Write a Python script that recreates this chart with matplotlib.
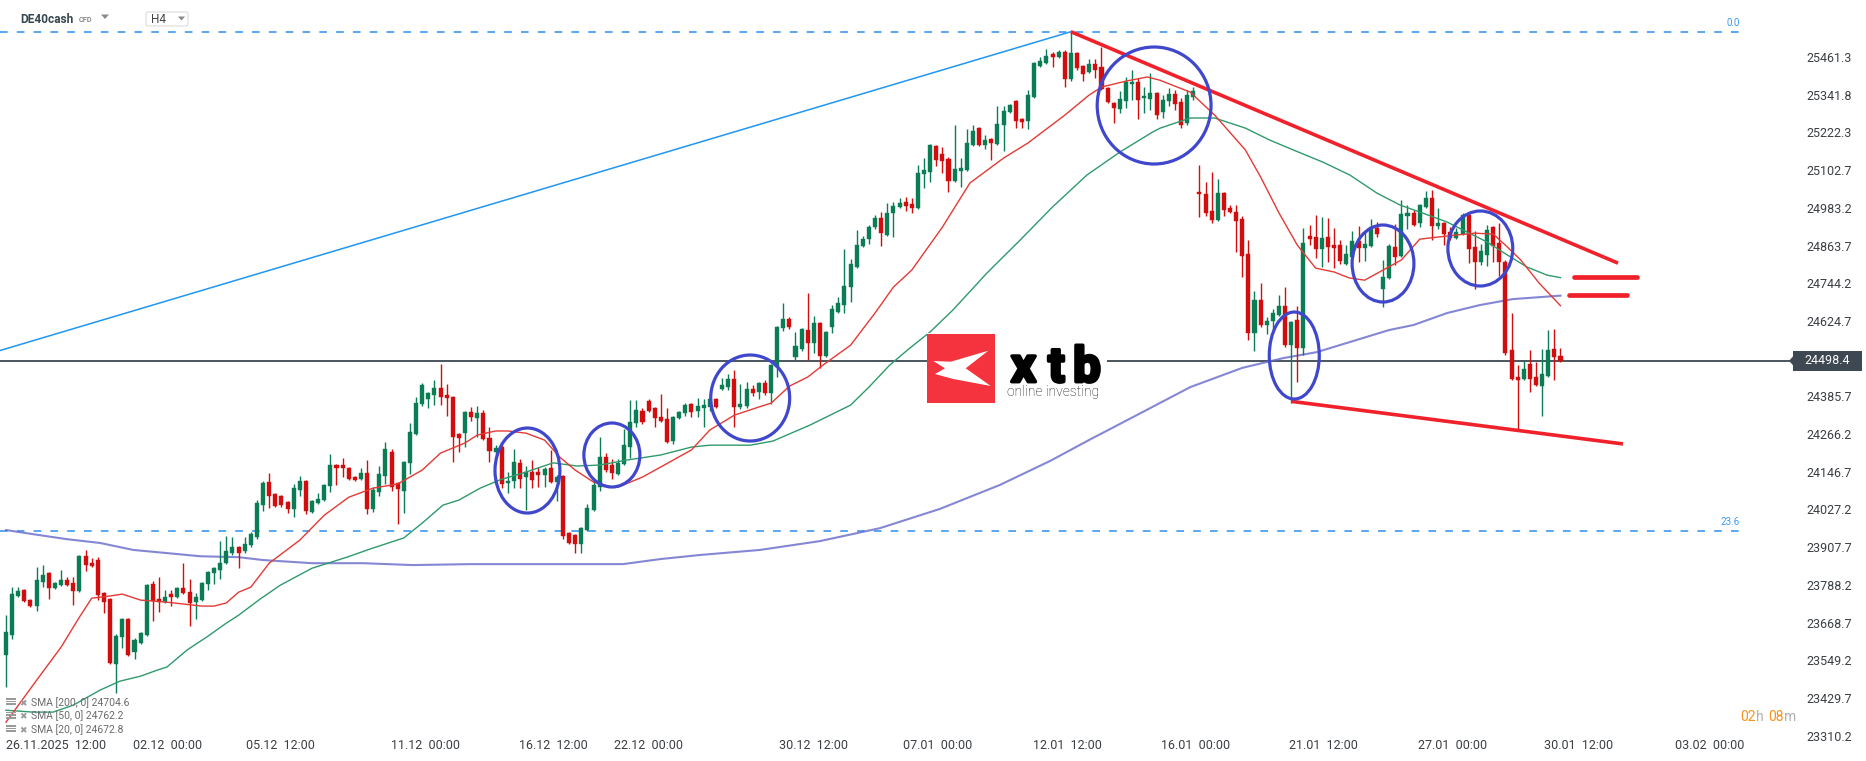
import matplotlib
matplotlib.use("Agg")
import matplotlib.pyplot as plt
import matplotlib.patheffects as pe
import numpy as np
from matplotlib.patches import Rectangle, Ellipse, Polygon, FancyBboxPatch
from matplotlib.transforms import blended_transform_factory

plt.rcParams["font.family"] = ["Roboto", "DejaVu Sans"]

# DE40cash H4 candles, 26.11.2025 -> 30.01.2026
opens = [
    23566, 23629, 23753, 23772, 23740, 23721, 23797, 23826, 23778, 23787, 23803, 23794, 23769, 23879, 23857,
    23867, 23762, 23743, 23537, 23623, 23680, 23575, 23604, 23629, 23791, 23743, 23734, 23759, 23750, 23778,
    23765, 23734, 23740, 23791, 23826, 23835, 23857, 23889, 23908, 23895, 23914, 23940, 24041, 24114, 24076,
    24070, 24051, 24029, 24089, 24117, 24019, 24047, 24057, 24101, 24168, 24168, 24159, 24130, 24124, 24143,
    24029, 24082, 24133, 24209, 24111, 24086, 24174, 24266, 24361, 24377, 24390, 24412, 24390, 24384, 24266,
    24269, 24336, 24317, 24333, 24254, 24209, 24225, 24111, 24117, 24174, 24130, 24146, 24146, 24136, 24159,
    24114, 24133, 23952, 23946, 23917, 23962, 24025, 24098, 24193, 24168, 24139, 24171, 24225, 24301, 24339,
    24371, 24349, 24320, 24314, 24244, 24317, 24333, 24361, 24339, 24349, 24352, 24377, 24409, 24415, 24441,
    24352, 24355, 24409, 24399, 24428, 24396, 24479, 24602, 24631, 24510, 24536, 24596, 24555, 24618, 24513,
    24605, 24653, 24675, 24732, 24796, 24862, 24884, 24922, 24951, 24897, 24967, 24986, 25002, 24995, 24983,
    25090, 25097, 25179, 25154, 25138, 25068, 25100, 25103, 25182, 25236, 25182, 25201, 25186, 25246, 25287,
    25322, 25265, 25258, 25335, 25433, 25442, 25471, 25461, 25477, 25392, 25474, 25433, 25414, 25439, 25430,
    25363, 25315, 25297, 25322, 25376, 25382, 25331, 25328, 25347, 25287, 25322, 25344, 25319, 25252, 25335,
    25033, 25027, 24973, 24945, 25030, 24983, 24970, 24948, 24837, 24586, 24691, 24612, 24624, 24643, 24672,
    24548, 24628, 24539, 24894, 24891, 24853, 24891, 24865, 24865, 24805, 24827, 24878, 24856, 24862, 24919,
    24726, 24761, 24859, 24830, 24957, 24967, 24935, 24986, 25014, 24926, 24935, 24907, 24888, 24900, 24960,
    24859, 24811, 24834, 24922, 24872, 24811, 24533, 24447, 24441, 24488, 24447, 24418, 24450, 24536, 24514,
]
highs = [
    23692, 23781, 23781, 23775, 23743, 23845, 23851, 23828, 23797, 23835, 23813, 23813, 23882, 23898, 23873,
    23876, 23765, 23746, 23632, 23683, 23683, 23620, 23639, 23790, 23800, 23813, 23772, 23772, 23781, 23857,
    23807, 23762, 23797, 23832, 23845, 23927, 23943, 23940, 23911, 23940, 23956, 24057, 24117, 24143, 24079,
    24073, 24054, 24108, 24133, 24121, 24057, 24079, 24108, 24203, 24171, 24190, 24162, 24133, 24159, 24184,
    24098, 24165, 24241, 24219, 24114, 24181, 24301, 24384, 24428, 24400, 24437, 24488, 24425, 24387, 24269,
    24339, 24352, 24355, 24342, 24288, 24231, 24231, 24146, 24219, 24187, 24165, 24184, 24162, 24162, 24216,
    24136, 24136, 23955, 23949, 23971, 24044, 24121, 24257, 24206, 24187, 24187, 24282, 24374, 24374, 24349,
    24377, 24352, 24393, 24349, 24323, 24339, 24365, 24365, 24380, 24377, 24380, 24380, 24444, 24456, 24469,
    24425, 24431, 24422, 24431, 24437, 24488, 24608, 24681, 24637, 24590, 24602, 24713, 24640, 24621, 24593,
    24675, 24701, 24853, 24821, 24913, 24894, 24929, 24960, 24970, 24998, 25002, 25014, 25018, 25014, 25119,
    25141, 25185, 25182, 25176, 25144, 25246, 25141, 25233, 25246, 25239, 25214, 25204, 25306, 25306, 25312,
    25325, 25268, 25357, 25446, 25461, 25487, 25477, 25483, 25483, 25541, 25477, 25436, 25455, 25455, 25493,
    25366, 25318, 25354, 25398, 25420, 25395, 25366, 25411, 25350, 25341, 25363, 25357, 25331, 25357, 25366,
    25119, 25065, 25097, 25075, 25033, 24992, 24992, 24957, 24881, 24720, 24745, 24637, 24662, 24707, 24732,
    24624, 24672, 24919, 24929, 24960, 24954, 24951, 24919, 24881, 24865, 24910, 24926, 24913, 24948, 24938,
    24818, 24869, 24932, 25008, 24992, 24976, 24995, 25037, 25040, 24983, 24938, 24922, 24919, 24967, 24964,
    24910, 24869, 24929, 24926, 24935, 24818, 24650, 24485, 24498, 24533, 24494, 24536, 24596, 24599, 24539,
]
lows = [
    23464, 23616, 23750, 23734, 23718, 23705, 23781, 23743, 23775, 23784, 23784, 23724, 23765, 23832, 23845,
    23740, 23699, 23537, 23445, 23588, 23563, 23553, 23601, 23626, 23673, 23702, 23731, 23721, 23747, 23759,
    23658, 23680, 23737, 23772, 23791, 23807, 23854, 23883, 23841, 23889, 23908, 23933, 24022, 24032, 24035,
    24035, 24016, 24003, 24070, 24013, 24016, 24044, 24054, 24082, 24105, 24130, 24121, 24117, 24121, 24013,
    24019, 24070, 24108, 24086, 23981, 24016, 24139, 24263, 24355, 24349, 24358, 24358, 24323, 24177, 24209,
    24225, 24307, 24257, 24247, 24177, 24193, 24095, 24079, 24095, 24095, 24025, 24095, 24098, 24098, 24111,
    24054, 23933, 23917, 23889, 23889, 23958, 24022, 24086, 24146, 24124, 24136, 24168, 24190, 24288, 24298,
    24336, 24288, 24304, 24238, 24235, 24314, 24323, 24320, 24320, 24288, 24339, 24349, 24406, 24406, 24288,
    24345, 24349, 24387, 24377, 24390, 24361, 24447, 24593, 24599, 24501, 24529, 24501, 24523, 24476, 24510,
    24586, 24650, 24650, 24685, 24792, 24859, 24869, 24916, 24862, 24894, 24891, 24983, 24973, 24967, 24980,
    25046, 25065, 25116, 25094, 25033, 25065, 25049, 25100, 25179, 25179, 25170, 25135, 25183, 25163, 25284,
    25236, 25236, 25233, 25331, 25430, 25439, 25430, 25458, 25366, 25385, 25420, 25385, 25411, 25395, 25357,
    25315, 25252, 25284, 25300, 25325, 25265, 25284, 25293, 25265, 25268, 25306, 25293, 25236, 25246, 25325,
    24954, 24957, 24935, 24942, 24957, 24967, 24843, 24764, 24564, 24529, 24605, 24583, 24590, 24640, 24542,
    24365, 24431, 24517, 24865, 24824, 24796, 24811, 24792, 24805, 24802, 24824, 24811, 24815, 24859, 24891,
    24669, 24758, 24802, 24827, 24916, 24926, 24922, 24983, 24881, 24916, 24865, 24881, 24884, 24897, 24808,
    24726, 24802, 24799, 24811, 24767, 24517, 24437, 24279, 24437, 24399, 24418, 24323, 24447, 24437, 24494,
]
closes = [
    23639, 23759, 23769, 23737, 23721, 23803, 23819, 23778, 23794, 23803, 23787, 23769, 23879, 23851, 23848,
    23756, 23734, 23540, 23626, 23680, 23566, 23613, 23636, 23787, 23737, 23734, 23750, 23750, 23778, 23762,
    23731, 23750, 23794, 23829, 23841, 23857, 23895, 23908, 23889, 23917, 23949, 24047, 24111, 24070, 24038,
    24041, 24029, 24095, 24117, 24022, 24054, 24060, 24105, 24168, 24159, 24159, 24124, 24121, 24143, 24029,
    24089, 24139, 24219, 24098, 24092, 24177, 24273, 24365, 24422, 24396, 24412, 24384, 24380, 24257, 24254,
    24336, 24320, 24333, 24250, 24212, 24222, 24108, 24117, 24177, 24124, 24146, 24121, 24136, 24155, 24114,
    24130, 23943, 23921, 23917, 23968, 24032, 24105, 24193, 24152, 24143, 24174, 24231, 24304, 24342, 24304,
    24339, 24317, 24307, 24241, 24320, 24336, 24358, 24336, 24355, 24358, 24377, 24352, 24422, 24441, 24352,
    24361, 24409, 24396, 24428, 24396, 24485, 24605, 24631, 24605, 24545, 24599, 24555, 24618, 24513, 24590,
    24662, 24681, 24735, 24805, 24865, 24884, 24922, 24951, 24903, 24967, 24989, 24998, 24989, 24983, 25094,
    25103, 25182, 25135, 25132, 25068, 25106, 25109, 25189, 25227, 25182, 25198, 25189, 25249, 25290, 25309,
    25258, 25255, 25341, 25442, 25449, 25464, 25461, 25477, 25392, 25474, 25426, 25407, 25439, 25420, 25360,
    25319, 25300, 25328, 25382, 25382, 25325, 25338, 25347, 25277, 25325, 25344, 25312, 25246, 25341, 25354,
    25027, 24967, 24945, 25030, 24976, 24970, 24941, 24830, 24586, 24691, 24612, 24624, 24650, 24672, 24548,
    24621, 24539, 24872, 24884, 24853, 24888, 24859, 24856, 24815, 24837, 24878, 24856, 24869, 24922, 24900,
    24764, 24862, 24827, 24964, 24967, 24929, 24992, 25014, 24926, 24935, 24900, 24888, 24907, 24960, 24853,
    24811, 24846, 24913, 24862, 24811, 24523, 24441, 24437, 24472, 24441, 24422, 24456, 24533, 24510, 24498.4,
]

# moving averages (candle index, level)
sma20_idx = [0, 5, 9, 12, 14, 17, 19, 22, 26, 32, 34, 36, 38, 40, 43, 48, 52, 56, 60, 64, 68, 71, 75, 77, 80,
             82, 85, 88, 90.5, 93, 96, 99, 100, 104, 107, 112, 115, 119, 123, 125, 128, 131, 133.5, 138, 142,
             145, 148, 153, 157.5, 163, 167, 173, 177, 179, 183, 186.5, 188.5, 193.5, 197.5, 202.5, 205, 208,
             211, 214, 217, 219.5, 222, 225, 228, 231, 235.5, 240, 243, 245, 247.5, 250.5, 254]
sma20_val = [23353, 23486, 23591, 23686, 23746, 23753, 23759, 23740, 23734, 23721, 23721, 23731, 23765, 23781,
             23857, 23930, 24009, 24066, 24095, 24108, 24152, 24206, 24238, 24263, 24276, 24276, 24269, 24247,
             24193, 24152, 24114, 24098, 24098, 24130, 24162, 24216, 24279, 24326, 24352, 24364, 24418, 24447,
             24485, 24548, 24650, 24732, 24786, 24922, 25062, 25141, 25189, 25277, 25341, 25366, 25385, 25398,
             25388, 25350, 25277, 25167, 25081, 24967, 24865, 24792, 24780, 24761, 24754, 24786, 24818, 24884,
             24894, 24903, 24900, 24865, 24818, 24745, 24673]
sma50_idx = [0, 4.4, 7.7, 11, 13, 15.4, 18.6, 22, 24.7, 26.3, 29.6, 32.8, 36, 38, 41.5, 44.8, 50, 55.7, 59.5,
             65, 68, 71.4, 74, 77.5, 80.7, 85, 89.4, 93.3, 97, 101.5, 107, 112, 115, 121.6, 125.3, 131.4, 138,
             141, 144.4, 147.7, 151, 154.7, 160.3, 165.7, 171, 176.6, 182, 187.4, 188.6, 193.5, 197.5, 202.5,
             206.5, 210.3, 215.2, 219.6, 224, 227.8, 231, 235.5, 238.7, 242, 245.3, 248.5, 251.8, 254]
sma50_val = [23391, 23385, 23385, 23407, 23429, 23455, 23483, 23499, 23518, 23528, 23582, 23623, 23667, 23692,
             23743, 23787, 23841, 23876, 23902, 23937, 23984, 24041, 24057, 24095, 24121, 24146, 24175, 24165,
             24168, 24184, 24200, 24225, 24231, 24231, 24244, 24295, 24358, 24415, 24485, 24539, 24590, 24659,
             24777, 24881, 24986, 25087, 25160, 25224, 25236, 25268, 25268, 25236, 25198, 25167, 25128, 25087,
             25030, 24992, 24970, 24938, 24907, 24875, 24834, 24796, 24770, 24762]
sma200_idx = [0, 4.4, 10, 15.4, 20.8, 26.3, 31.7, 38, 42, 50, 58.3, 66.5, 75.8, 100.8, 106.9, 113.4, 123.2,
              133, 142.8, 152.6, 162.4, 170.6, 177.6, 180.4, 187, 193.5, 202, 208.7, 214.2, 219.6, 226, 230,
              235.5, 240.8, 246.2, 254]
sma200_val = [23962, 23949, 23933, 23921, 23899, 23889, 23879, 23876, 23867, 23857, 23857, 23851, 23854, 23854,
              23870, 23883, 23899, 23927, 23968, 24029, 24105, 24181, 24254, 24282, 24349, 24415, 24476, 24507,
              24526, 24558, 24596, 24612, 24650, 24675, 24694, 24705]

last_price = 24498.4
fib_levels = [25541.5, 23959.0]
fib_names = ["0.0", "23.6"]
y_ticks = [23310.2, 23429.7, 23549.2, 23668.7, 23788.2, 23907.7, 24027.2, 24146.7, 24266.2, 24385.7,
           24624.7, 24744.2, 24863.7, 24983.2, 25102.7, 25222.3, 25341.8, 25461.3]
x_tick_pos = [0, 26.4, 44.8, 68.5, 89.4, 105, 131.9, 152.3, 173.4, 194.4, 215.2, 236.3, 256.9, 278.3]
x_tick_labels = ["26.11.2025  12:00", "02.12  00:00", "05.12  12:00", "11.12  00:00", "16.12  12:00",
                 "22.12  00:00", "30.12  12:00", "07.01  00:00", "12.01  12:00", "16.01  00:00",
                 "21.01  12:00", "27.01  00:00", "30.01  12:00", "03.02  00:00"]

# drawn annotations: (candle index, price)
fib_trend = ([-0.98, 174], [24531, 25541.5])
upper_trend = ([174, 263.4], [25541.5, 24808])
lower_trend = ([210, 264.2], [24370, 24235])
marks = [([256.2, 266.5], 24764), ([255.4, 264.9], 24707)]
circles = [(85.2, 24150.7, 10.6, 269.4), (99.0, 24199.9, 9.15, 202.8), (121.6, 24380.5, 12.9, 272.6),
           (187.6, 25307.6, 18.6, 370.8), (210.5, 24515.2, 8.17, 275.7), (225.0, 24806.8, 10.1, 244.0),
           (240.9, 24854.4, 10.6, 237.7)]

GREEN = "#0a7d55"
RED = "#d30d0d"
W, H = 1866, 761

fig = plt.figure(figsize=(W / 100, H / 100), dpi=100)
fig.patch.set_facecolor("white")
ax = fig.add_axes([0, 24 / H, 1790 / W, 737 / H])
ax.set_xlim(-0.98, 291.5)
ax.set_ylim(23306.1, 25642)
for s in ax.spines.values():
    s.set_visible(False)

o = np.array(opens, float)
c = np.array(closes, float)
hi = np.array(highs, float)
lo = np.array(lows, float)
xs = np.arange(len(o))
cols = np.where(c >= o, GREEN, RED)
ax.vlines(xs, lo, hi, colors=cols, lw=1.0, zorder=3)
ax.bar(xs, np.maximum(np.abs(c - o), 3), bottom=np.minimum(o, c), width=0.66,
       color=cols, edgecolor=cols, linewidth=0.3, zorder=3)

ax.plot(sma200_idx, sma200_val, color="#6569c8", lw=1.5, alpha=0.8, zorder=2.5)
ax.plot(sma50_idx, sma50_val, color="#2f9a6c", lw=1.0, zorder=4)
ax.plot(sma20_idx, sma20_val, color="#e53935", lw=1.0, zorder=4)

ax.axhline(last_price, color="#3d4852", lw=1.3, zorder=1.5)

fib_end = 283.3
for lvl, name in zip(fib_levels, fib_names):
    ax.plot([-0.98, fib_end], [lvl, lvl], color="#2b8ff0", lw=1.1, dashes=(5, 6), zorder=2)
    ax.text(fib_end, lvl + 12, name, color="#3a9bf2", fontsize=7, ha="right", va="bottom")

ax.plot(*fib_trend, color="#2196f3", lw=1.1, zorder=2)
ax.plot(*upper_trend, color="#f0212b", lw=2.6, zorder=5, solid_capstyle="butt")
ax.plot(*lower_trend, color="#f0212b", lw=2.6, zorder=5, solid_capstyle="butt")
for xx, lvl in marks:
    ax.plot(xx, [lvl, lvl], color="#f0212b", lw=3.4, zorder=5, solid_capstyle="round")
for cx, cy, ew, eh in circles:
    ax.add_patch(Ellipse((cx, cy), ew, eh, fill=False, ec="#3f47cc", lw=2.3, zorder=6))

# axis labels
ax.yaxis.tick_right()
ax.set_yticks(y_ticks)
ax.set_yticklabels([f"{v:.1f}" for v in y_ticks])
ax.tick_params(axis="y", length=0, pad=11.5, labelsize=9, labelcolor="#3a3f44")
ax.set_xticks(x_tick_pos)
ax.set_xticklabels(x_tick_labels)
ax.tick_params(axis="x", length=0, pad=1.5, labelsize=9, labelcolor="#3a3f44")
ax.get_xticklabels()[0].set_ha("left")

# last price box
tr = blended_transform_factory(ax.transAxes, ax.transData)
ax.add_patch(Rectangle((1793 / 1790, last_price - 31.7), 69 / 1790, 63.4, transform=tr,
                       fc="#3d4852", ec="none", clip_on=False, zorder=7))
ax.add_patch(Polygon([(1793 / 1790, last_price - 14), (1789 / 1790, last_price), (1793 / 1790, last_price + 14)],
                     closed=True, transform=tr, fc="#3d4852", ec="none", clip_on=False, zorder=7))
ax.text(1827.5 / 1790, last_price, f"{last_price:.1f}", transform=tr, ha="center", va="center",
        color="white", fontsize=9, zorder=8, clip_on=False)

# overlay in pixel coordinates: header, logo, legend, countdown
ov = fig.add_axes([0, 0, 1, 1], zorder=10)
ov.set_xlim(0, W)
ov.set_ylim(H, 0)
ov.axis("off")

ov.text(20, 23, "DE40cash", fontsize=8.6, fontweight="bold", color="#37474f", va="baseline")
ov.text(79, 22, "CFD", fontsize=5.3, fontweight="bold", color="#8a8a8a", va="baseline")
ov.add_patch(Polygon([(101, 14.5), (109, 14.5), (105, 19)], fc="#8a8a8a", ec="none"))
ov.add_patch(FancyBboxPatch((146, 12), 42, 14, boxstyle="round,pad=0,rounding_size=2",
                            fc="white", ec="#dcdcdc", lw=0.8))
ov.text(151, 23, "H4", fontsize=8.5, color="#444444", va="baseline")
ov.add_patch(Polygon([(178, 16.5), (185, 16.5), (181.5, 20.5)], fc="#8a8a8a", ec="none"))

ov.add_patch(Rectangle((927, 333), 180, 70, fc="white", ec="none"))
ov.add_patch(Rectangle((927, 334), 68, 69, fc="#f5333f", ec="none"))
ov.add_patch(Polygon([(933.3, 361), (950.7, 361.7), (988.3, 350.7), (965.7, 368.3), (990.7, 386),
                      (953.3, 379), (935, 374), (945, 368.3)], closed=True, fc="white", ec="none"))
for ch, xc in zip("xtb", [1023.5, 1056.5, 1087]):
    ov.text(xc, 381.7, ch, fontsize=35, fontweight="bold", color="black", ha="center", va="baseline",
            path_effects=[pe.withStroke(linewidth=2.5, foreground="black")])
ov.text(1007, 396, "online investing", fontsize=10, fontweight="light", color="#111111", va="baseline")

legend_rows = ["SMA [200, 0] 24704.6", "SMA [50, 0] 24762.2", "SMA [20, 0] 24672.8"]
for k, row in enumerate(legend_rows):
    yb = 706 + 13.5 * k
    for j in range(3):
        ov.add_patch(Rectangle((6, yb - 8 + 2.7 * j), 10, 1.6, fc="#9a9a9a", ec="none"))
    ov.text(23, yb, "\u2716", fontsize=6.5, color="#9a9a9a", ha="center", va="baseline",
            family=["DejaVu Sans"])
    ov.text(31, yb, row, fontsize=7.5, color="#6b6b6b", va="baseline")

ov.text(1740, 721, "02", fontsize=10, color="#f7931e", va="baseline")
ov.text(1756, 721, "h", fontsize=10, color="#b0b0b0", va="baseline")
ov.text(1768, 721, "08", fontsize=10, color="#f7931e", va="baseline")
ov.text(1784, 721, "m", fontsize=10, color="#b0b0b0", va="baseline")

fig.savefig("out.png", dpi=100, facecolor="white")
